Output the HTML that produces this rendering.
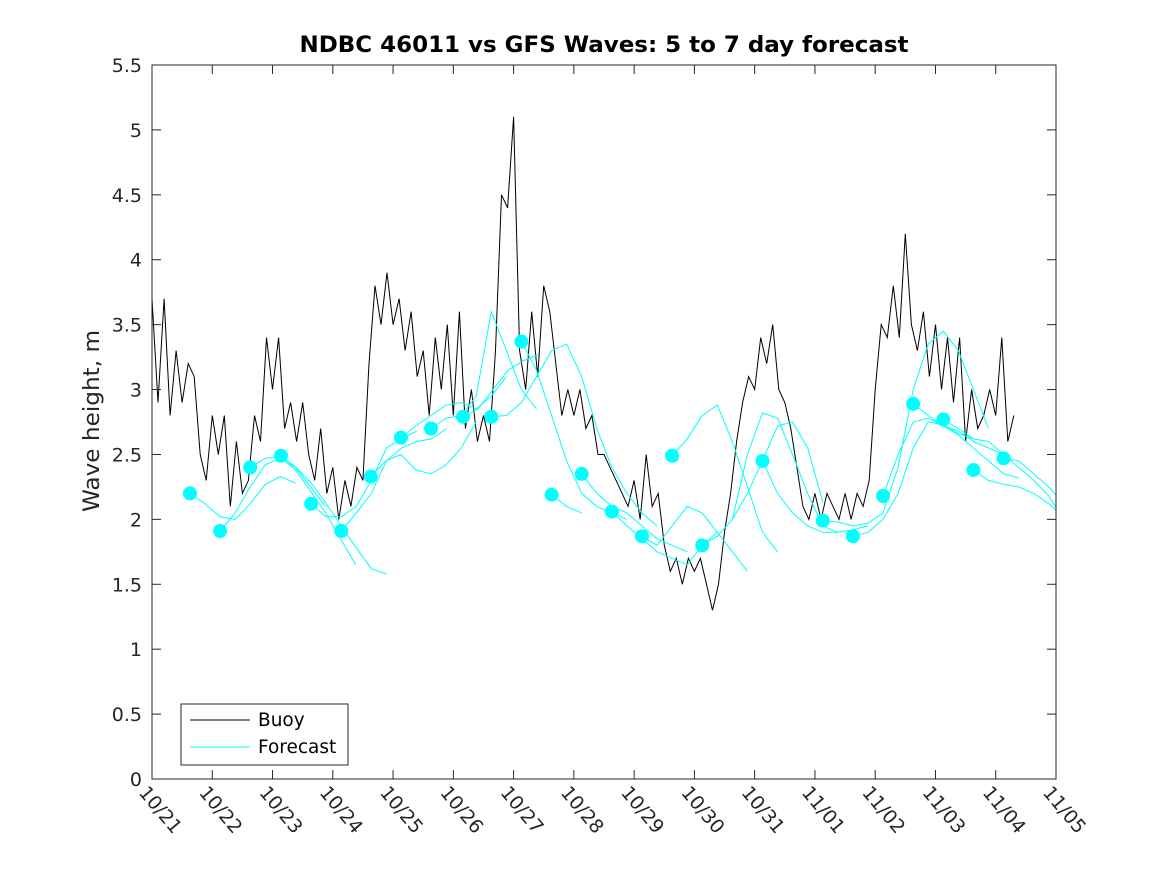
<!DOCTYPE html>
<html><head><meta charset="utf-8"><style>
html,body{margin:0;padding:0;background:#fff;}
svg text{font-family:"DejaVu Sans","Liberation Sans",sans-serif;fill:#262626;}
</style></head><body>
<svg id="chart" width="1167" height="875" viewBox="0 0 1167 875" xmlns="http://www.w3.org/2000/svg">
<rect x="0" y="0" width="1167" height="875" fill="#fff"/>
<text x="604" y="52" text-anchor="middle" font-size="22" font-weight="bold" textLength="609" lengthAdjust="spacingAndGlyphs" style="fill:#000">NDBC 46011 vs GFS Waves: 5 to 7 day forecast</text>
<text transform="translate(99,421) rotate(-90)" text-anchor="middle" font-size="22" textLength="182" lengthAdjust="spacingAndGlyphs">Wave height, m</text>
<g id="plot"></g>
<g id="axes"></g>
<g>
<rect x="181" y="704" width="167" height="61" fill="#fff" stroke="#262626" stroke-width="1"/>
<line x1="190" y1="720" x2="250" y2="720" stroke="#000" stroke-width="1"/>
<text x="258" y="726" font-size="18.5" style="fill:#000">Buoy</text>
<line x1="190" y1="747" x2="250" y2="747" stroke="#00ffff" stroke-width="1"/>
<text x="258" y="753" font-size="18.5" style="fill:#000">Forecast</text>
</g>
</svg>
<script>
// ---- data ----
const xTickLabels = ["10/21","10/22","10/23","10/24","10/25","10/26","10/27","10/28","10/29","10/30","10/31","11/01","11/02","11/03","11/04","11/05"];
const yTicks = [0,0.5,1,1.5,2,2.5,3,3.5,4,4.5,5,5.5];
const buoyStartDay = 0;
const buoyStep = 0.1;
const buoyValues = [3.7,2.9,3.7,2.8,3.3, 2.9,3.2,3.1,2.5,2.3, 2.8,2.5,2.8,2.1,2.6, 2.2,2.3,2.8,2.6,3.4,
 3.0,3.4,2.7,2.9,2.6, 2.9,2.5,2.3,2.7,2.2, 2.4,2.0,2.3,2.1,2.4, 2.3,3.2,3.8,3.5,3.9,
 3.5,3.7,3.3,3.6,3.1, 3.3,2.8,3.4,3.0,3.5, 2.8,3.6,2.7,3.0,2.6, 2.8,2.6,3.3,4.5,4.4,
 5.1,3.3,3.0,3.6,3.1, 3.8,3.6,3.2,2.8,3.0, 2.8,3.0,2.7,2.8,2.5, 2.5,2.4,2.3,2.2,2.1,
 2.3,2.0,2.5,2.1,2.2, 1.8,1.6,1.7,1.5,1.7, 1.6,1.7,1.5,1.3,1.5, 1.9,2.2,2.6,2.9,3.1,
 3.0,3.4,3.2,3.5,3.0, 2.9,2.7,2.4,2.1,2.0, 2.2,2.0,2.2,2.1,2.0, 2.2,2.0,2.2,2.1,2.3,
 3.0,3.5,3.4,3.8,3.4, 4.2,3.5,3.3,3.6,3.1, 3.5,3.0,3.4,2.9,3.4, 2.6,3.0,2.7,2.8,3.0,
 2.8,3.4,2.6,2.8];
const forecastStep = 0.25;
const forecastStarts = [0.63,1.13,1.63,2.14,2.64,3.14,3.63,4.13,4.63,5.16,5.63,6.13,6.63,7.13,7.63,8.13,8.63,9.13,9.63,10.13,11.13,11.63,12.13,12.63,13.13,13.63,14.13];
const forecastHasDot = [1,1,1,1,1,1,1,1,1,1,1,1,1,1,1,1,1,1,0,1,1,1,1,1,1,1,1];
const forecastRuns = [
 [2.2,2.12,2.02,2.0,2.12,2.27,2.33,2.28],
 [1.91,2.05,2.25,2.42,2.47,2.40,2.25,2.1],
 [2.4,2.47,2.48,2.38,2.22,2.05,1.85,1.65],
 [2.49,2.4,2.28,2.12,1.95,1.78,1.62,1.58],
 [2.12,2.02,2.02,2.1,2.3,2.55,2.62,2.68],
 [1.91,2.05,2.2,2.45,2.55,2.6,2.62,2.7],
 [2.33,2.45,2.5,2.38,2.35,2.42,2.55,2.75],
 [2.63,2.72,2.8,2.88,2.9,2.85,2.95,3.1],
 [2.7,2.78,2.8,2.95,3.6,3.3,3.0,2.85],
 [2.79,2.85,3.0,3.15,3.22,3.27],
 [2.79,2.8,2.9,3.1,3.3,3.35,3.1,2.7,2.4,2.2,2.05,1.95],
 [3.37,3.15,2.8,2.45,2.2,2.1,2.05,2.0],
 [2.19,2.1,2.05],
 [2.35,2.2,2.1,2.05,1.95,1.85,1.8,1.75],
 [2.06,1.95,1.85,1.75,1.7,1.65,1.8,1.9],
 [1.87,1.8,1.95,2.1,2.05,1.9,1.75,1.6],
 [2.49,2.62,2.8,2.88,2.6,2.25,1.9,1.75],
 [1.8,1.87,2.0,2.2,2.45,2.72,2.75,2.55,2.13],
 [2.0,2.5,2.82,2.78,2.5,2.2,1.95,1.9],
 [2.45,2.2,2.05,1.95,1.9,1.9,1.92,1.95],
 [1.99,1.98,1.95,1.97,2.05,2.4,3.0,3.35,3.45,3.3,3.0,2.7],
 [1.87,1.9,2.0,2.2,2.55,2.75,2.73,2.66,2.62],
 [2.18,2.5,2.75,2.78,2.72,2.68,2.6,2.55,2.5],
 [2.89,2.8,2.72,2.65,2.55,2.45,2.35,2.32],
 [2.77,2.7,2.62,2.6,2.5,2.4,2.3,2.18,2.0],
 [2.38,2.3,2.27,2.25,2.2,2.12,2.02,1.9,1.78],
 [2.47,2.45,2.35,2.25,2.12]
];
// ---- axes ----
const X0=152,X1=1056,Y0=779,Y1=65;
const xScale=d=>X0+d*(X1-X0)/15;
const yScale=v=>Y0-v*(Y0-Y1)/5.5;
const NS="http://www.w3.org/2000/svg";
function mk(tag,attrs,parent){const e=document.createElementNS(NS,tag);for(const k in attrs)e.setAttribute(k,attrs[k]);parent.appendChild(e);return e;}
const plot=document.getElementById('plot');
const axes=document.getElementById('axes');
const clip=mk('clipPath',{id:'clipP'},document.getElementById('chart'));
mk('rect',{x:X0,y:Y1,width:X1-X0,height:Y0-Y1},clip);
plot.setAttribute('clip-path','url(#clipP)');
let pts=buoyValues.map((v,i)=>xScale(buoyStartDay+i*buoyStep).toFixed(1)+','+yScale(v).toFixed(1)).join(' ');
const bl=mk('polyline',{points:pts,fill:'none',stroke:'#000','stroke-width':1},plot);


forecastRuns.forEach((run,r)=>{
  const p=run.map((v,i)=>xScale(forecastStarts[r]+i*forecastStep).toFixed(1)+','+yScale(v).toFixed(1)).join(' ');
  const l=mk('polyline',{points:p,fill:'none',stroke:'#00ffff','stroke-width':1},plot);
  
  
});
forecastRuns.forEach((run,r)=>{
  if(!forecastHasDot[r])return;
  const c=mk('circle',{cx:xScale(forecastStarts[r]),cy:yScale(run[0]),r:7,fill:'#00ffff'},plot);
  
  
});
const fr=mk('rect',{x:X0,y:Y1,width:X1-X0,height:Y0-Y1,fill:'none',stroke:'#262626','stroke-width':1},axes);


yTicks.forEach(v=>{
  const y=yScale(v);
  mk('line',{x1:X0,y1:y,x2:X0+9,y2:y,stroke:'#262626'},axes);
  mk('line',{x1:X1,y1:y,x2:X1-9,y2:y,stroke:'#262626'},axes);
  const t=mk('text',{x:X0-10,y:y+7,'text-anchor':'end','font-size':19},axes);
  t.textContent=String(v);
  
  
});
xTickLabels.forEach((lab,i)=>{
  const x=xScale(i);
  mk('line',{x1:x,y1:Y0,x2:x,y2:Y0-9,stroke:'#262626'},axes);
  mk('line',{x1:x,y1:Y1,x2:x,y2:Y1+9,stroke:'#262626'},axes);
  const t=mk('text',{transform:'translate('+(x-14)+','+(Y0+14)+') rotate(50)','font-size':19},axes);
  t.textContent=lab;
  
  
});
</script>
</body></html>
